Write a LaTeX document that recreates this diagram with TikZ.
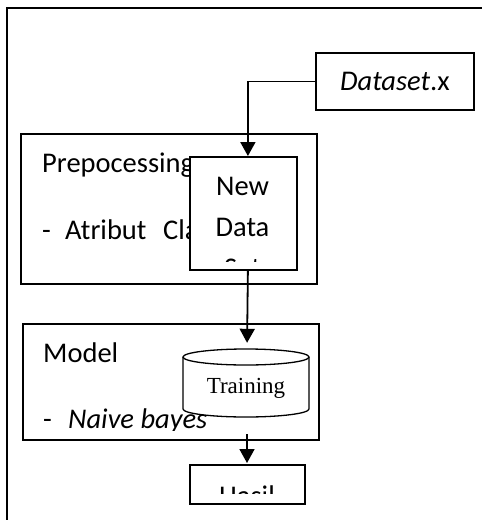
\documentclass[tikz,border=0pt]{standalone}
\usepackage{fontspec}
\setmainfont{Carlito}
\newfontfamily\timesf{Liberation Serif}
\usetikzlibrary{arrows.meta}
\begin{document}
\begin{tikzpicture}[x=1pt,y=-1pt,
  box/.style={draw, line width=1.8pt, inner sep=0pt, anchor=north west},
  lbl/.style={anchor=base west, inner sep=0pt, font=\fontsize{28.5}{34}\selectfont},
  arr/.style={line width=1.8pt, -{Triangle[width=15pt,length=14pt]}}]
\useasboundingbox (0,0) rectangle (482,520);
\begin{scope}
\clip (0,0) rectangle (482,520);
\draw[line width=2pt] (7,530) -- (7,8) -- (490,8);
\end{scope}
% Dataset
\node[box, minimum width=158pt, minimum height=57pt, font=\fontsize{28.5}{34}\selectfont] (ds) at (315,52) {\textit{Dataset}.x};
% Prepocessing box
\node[box, minimum width=296pt, minimum height=150pt] (pre) at (20,133) {};
\node[lbl] (t1) at (42,172) {Prepocessing};
\node[lbl] (t2a) at (42,239) {-};
\node[lbl] (t2b) at (65,239) {Atribut};
\node[lbl] (t2c) at (163,239) {Class};
% New Data Set box
\node[box, fill=white, minimum width=107pt, minimum height=113pt] (nd) at (189,156) {};
\begin{scope}
\clip (189,156) rectangle (296,261);
\node[lbl, anchor=base] (n1) at (242.5,195) {New};
\node[lbl, anchor=base] (n2) at (242.5,236) {Data};
\node[lbl, anchor=base] (n3) at (242.5,277) {Set};
\end{scope}
% Model box
\node[box, minimum width=296pt, minimum height=116pt] (mod) at (22,323) {};
\node[lbl] (m1) at (43,362) {Model};
\begin{scope}
\clip (22,323) rectangle (318,430);
\node[lbl] (m2a) at (43,428) {-};
\node[lbl] (m2b) at (68,428) {\itshape Naive bayes};
\end{scope}
% Training cylinder
\node[minimum width=126pt, minimum height=68pt, inner sep=0pt] (tr) at (246,383) {};
\draw[line width=1.3pt, fill=white] (183,357) -- (183,409) arc[start angle=180, end angle=0, x radius=63, y radius=8] -- (309,357);
\draw[line width=1.3pt, fill=white] (246,357) ellipse[x radius=63, y radius=8];
\node[anchor=base, inner sep=0pt, font=\timesf\fontsize{23}{28}\selectfont] (trt) at (246,393) {Training};
% Hasil
\node[box, minimum width=115pt, minimum height=39pt] (hs) at (189,464) {};
\begin{scope}
\clip (189,464) rectangle (304,493);
\node[lbl, anchor=base] (ht) at (247,505) {Hasil};
\end{scope}
% connectors
\coordinate (mo) at (247,434);
\draw[arr] (ds.west) -| ([xshift=4.5pt]nd.north);
\draw[arr, shorten >=6pt] ([xshift=4.5pt]nd.south) -- ([xshift=1pt]tr.north);
\draw[arr, shorten >=1pt] (mo) -- (hs.north -| mo);
\end{tikzpicture}
\end{document}
